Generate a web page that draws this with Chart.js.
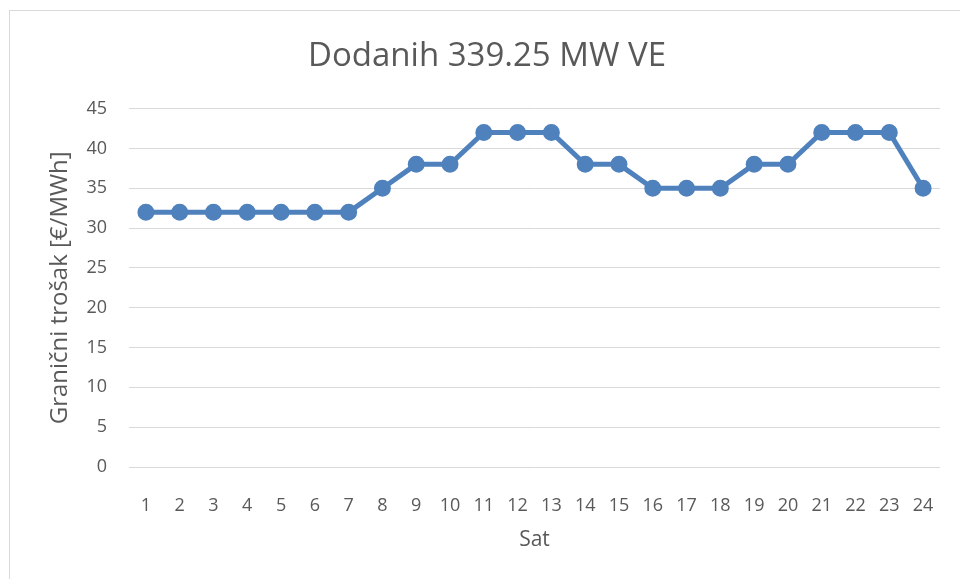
<!DOCTYPE html>
<html>
<head>
  <title>Dodanih 339.25 MW VE</title>
  <script src="https://cdn.jsdelivr.net/npm/chart.js"></script>
  <style>
    html, body { margin: 0; padding: 0; background: #fff; }
    #wrap { position: relative; width: 960px; height: 579px; }
  </style>
</head>
<body>
  <div id="wrap"><canvas id="costChart"></canvas></div>

  <script>
    const hours = ["1","2","3","4","5","6","7","8","9","10","11","12","13","14","15","16","17","18","19","20","21","22","23","24"];
    const marginalCost = [32,32,32,32,32,32,32,35,38,38,42,42,42,38,38,35,35,35,38,38,42,42,42,35];
    const yTicks = [0,5,10,15,20,25,30,35,40,45];

    const textColor = "#595959";
    const font = "'Open Sans', sans-serif";

    // light frame like the office chart border
    const frame = {
      id: "frame",
      beforeDraw(chart) {
        const ctx = chart.ctx;
        ctx.save();
        ctx.strokeStyle = "#d9d9d9";
        ctx.lineWidth = 1;
        ctx.strokeRect(9.5, 10.5, 1000, 1000);
        ctx.restore();
      }
    };

    new Chart(document.getElementById("costChart"), {
      type: "line",
      data: {
        labels: hours,
        datasets: [{
          data: marginalCost,
          borderColor: "#4f81bd",
          backgroundColor: "#4f81bd",
          borderWidth: 5,
          pointRadius: 6,
          pointHoverRadius: 6,
          tension: 0
        }]
      },
      options: {
        responsive: true,
        maintainAspectRatio: false,
        animation: false,
        layout: { padding: { left: 14, right: 0, top: 0, bottom: 0 } },
        plugins: {
          legend: { display: false },
          tooltip: { enabled: false },
          title: {
            display: true,
            text: "Dodanih 339.25 MW VE",
            color: textColor,
            font: { family: font, size: 33, weight: "normal" },
            padding: { top: 37, bottom: 32 }
          }
        },
        scales: {
          x: {
            offset: true,
            grid: { display: false },
            border: { display: false },
            ticks: { color: textColor, font: { family: font, size: 18 }, padding: 20, maxRotation: 0, autoSkip: false },
            title: {
              display: true, text: "Sat", color: textColor,
              font: { family: font, size: 21 }, padding: { top: 0, bottom: 26 }
            },
            afterFit(scale) { scale.height = 579 - 467; }
          },
          y: {
            min: 0,
            max: 45,
            afterBuildTicks(scale) { scale.ticks = yTicks.map(v => ({ value: v })); },
            grid: { color: "#d9d9d9", lineWidth: 1, drawTicks: false },
            border: { display: false },
            ticks: { color: textColor, font: { family: font, size: 18 }, padding: 22 },
            title: {
              display: true, text: "Granični trošak [€/MWh]", color: textColor,
              font: { family: font, size: 24 }, padding: { top: 32, bottom: 0 }
            },
            afterFit(scale) { scale.width = 129 - 14; }
          },
          // empty right margin so the plot ends where the reference does
          spacer: {
            position: "right",
            grid: { display: false },
            border: { display: false },
            ticks: { display: false },
            afterFit(scale) { scale.width = 20; }
          }
        }
      },
      plugins: [frame]
    });
  </script>
</body>
</html>
